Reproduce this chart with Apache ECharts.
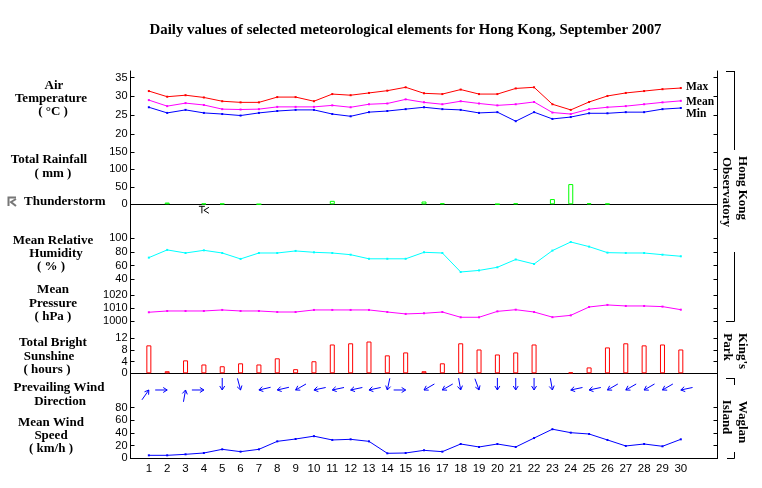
<!DOCTYPE html>
<html>
<head>
<meta charset="utf-8">
<title>Hong Kong September 2007</title>
<style>
  html, body { margin: 0; padding: 0; background: #fff; }
  #chart { width: 762px; height: 488px; }
</style>
<script src="https://cdn.jsdelivr.net/npm/echarts@6/dist/echarts.min.js"></script>
</head>
<body>
<div id="chart"></div>
<script>
const days = [1,2,3,4,5,6,7,8,9,10,11,12,13,14,15,16,17,18,19,20,21,22,23,24,25,26,27,28,29,30];
const tempMax = [31.4,29.9,30.3,29.7,28.7,28.4,28.4,29.8,29.8,28.7,30.6,30.3,30.9,31.5,32.4,30.8,30.6,31.8,30.6,30.6,32.1,32.4,27.9,26.4,28.5,30.1,30.9,31.4,31.9,32.2];
const tempMean = [29,27.4,28.2,27.7,26.6,26.5,26.6,27.2,27.2,27.2,27.6,27.1,27.9,28.1,29.2,28.4,27.9,28.7,28.1,27.6,27.9,28.5,25.7,25.3,26.6,27.1,27.4,27.9,28.4,28.8];
const tempMin = [27.1,25.6,26.4,25.6,25.3,24.9,25.6,26.1,26.4,26.4,25.3,24.7,25.8,26.1,26.6,27.1,26.6,26.4,25.6,25.8,23.4,25.8,24,24.5,25.5,25.5,25.8,25.8,26.6,26.9];
const rainfall = [0,5,0,2,2,0,0.5,0,0,0,10,0,0,0,0,8,3,0,0,1,3,0,15,58,3,2,0,0,0,0];
const thunderDays = [4];
const humidity = [71.7,83,78.5,82.4,78.5,69.8,78.5,78.5,81.5,79.5,78.5,76,70,70,70,79.5,78.5,50.7,53,57.6,69,62.4,82,94.6,87.8,79,78.5,78.5,76,73.7];
const pressure = [1006.8,1007.8,1007.8,1007.8,1008.6,1007.8,1007.8,1007,1007,1008.6,1008.6,1008.6,1008.6,1007,1005.5,1006,1007,1002.9,1002.9,1007.5,1008.8,1007,1003,1004.4,1010.9,1012.5,1011.7,1011.7,1011.2,1008.8];
const sunshine = [9.5,0.7,4.4,3,2.4,3.4,3,5.1,1.4,4.1,9.8,10.2,10.8,6.1,7.1,0.7,3.4,10.2,8.1,6.4,7.1,9.8,0,0.3,2,8.8,10.2,9.5,9.8,8.1];
// compass bearing the arrow points to
const windBearing = [35,90,10,90,180,165,257,257,240,258,258,258,258,192,90,240,240,170,160,180,180,180,170,258,258,240,240,240,240,258];
const windSpeed = [4.7,4.7,6.3,8.4,14.2,10.5,14.2,26.8,30.5,35,29,30,26.8,7.9,8.4,12.6,10.5,22.6,17.9,22.6,17.9,32,46,40.5,38.4,29,19.5,22.6,19,30];

const SERIF = '"Liberation Serif", serif';
const LEFT = 130.5, WIDTH = 587;

const chart = echarts.init(document.getElementById('chart'), null, { renderer: 'canvas' });

// one panel per element: [top, height, min, max, interval]
const panels = [
  [77.5, 56.5, 20, 35, 5],
  [152, 52.3, 0, 150, 50],
  [238.3, 41, 40, 100, 20],
  [295.3, 25.7, 1000, 1020, 10],
  [338, 35.3, 0, 12, 4],
  [407.7, 50.6, 0, 80, 20]
];
const showBaseline = [false, true, false, false, true, true];

const grid = [], xAxis = [], yAxis = [];
panels.forEach((p, i) => {
  grid.push({ left: LEFT, width: WIDTH, top: p[0], height: p[1] });
  xAxis.push({
    type: 'value', gridIndex: i, min: 0, max: 32, interval: 1,
    show: showBaseline[i], splitLine: { show: false }, axisTick: { show: false },
    axisLine: { show: true, onZero: false, lineStyle: { color: '#000', width: 1 } },
    axisLabel: {
      show: i === 5, margin: 5, color: '#000', fontSize: 11.5, hideOverlap: false,
      fontFamily: '"Liberation Sans", sans-serif',
      formatter: v => (days.includes(v) ? String(v) : '')
    }
  });
  ['left', 'right'].forEach(pos => {
    yAxis.push({
      type: 'value', gridIndex: i, position: pos, min: p[2], max: p[3], interval: p[4],
      splitLine: { show: false },
      axisLine: { show: false },
      axisTick: { show: true, inside: true, length: 4, lineStyle: { color: '#000' } },
      axisLabel: {
        show: pos === 'left', margin: 3, color: '#000', fontSize: 11,
        fontFamily: '"Liberation Sans", sans-serif',
        showMinLabel: true, showMaxLabel: true, hideOverlap: false,
        formatter: v => String(v)
      }
    });
  });
});

// full height frame lines on both sides
grid.push({ left: LEFT, width: WIDTH, top: 71, height: 387.3 });
xAxis.push({ type: 'value', gridIndex: 6, show: false, min: 0, max: 32 });
['left', 'right'].forEach(pos => {
  yAxis.push({
    type: 'value', gridIndex: 6, position: pos, min: 0, max: 1,
    splitLine: { show: false }, axisTick: { show: false }, axisLabel: { show: false },
    axisLine: { show: true, lineStyle: { color: '#000', width: 1 } }
  });
});

function lineSeries(panel, values, color) {
  return {
    type: 'line', xAxisIndex: panel, yAxisIndex: panel * 2,
    data: days.map((d, i) => [d, values[i]]),
    symbol: 'rect', symbolSize: 2, showSymbol: true,
    lineStyle: { color: color, width: 1 }, itemStyle: { color: color },
    silent: true, animation: false
  };
}

function barSeries(panel, values, color) {
  return {
    type: 'bar', xAxisIndex: panel, yAxisIndex: panel * 2,
    data: days.map((d, i) => [d, values[i]]).filter(r => r[1] > 0),
    barWidth: 5,
    itemStyle: { color: 'rgba(0,0,0,0)', borderColor: color, borderWidth: 1 },
    silent: true, animation: false
  };
}

const ARROW_LEVEL = 108; // arrow row sits above the wind speed scale
function renderArrow(params, api) {
  const head = api.coord([api.value(0), ARROW_LEVEL]);
  const rad = api.value(1) * Math.PI / 180;
  const ux = Math.sin(rad), uy = -Math.cos(rad);
  const tail = [head[0] - ux * 12, head[1] - uy * 12];
  const barb = (side) => [
    head[0] - ux * 4 + side * uy * 2.5,
    head[1] - uy * 4 - side * ux * 2.5
  ];
  const style = { stroke: '#0000ff', lineWidth: 1, fill: null };
  return {
    type: 'group',
    children: [
      { type: 'polyline', shape: { points: [tail, head] }, style },
      { type: 'polyline', shape: { points: [barb(1), head, barb(-1)] }, style }
    ]
  };
}

function renderThunder(params, api) {
  const c = api.coord([api.value(0), 0]);
  const style = { stroke: '#000', lineWidth: 1, fill: null };
  const pts = list => ({ type: 'polyline', shape: { points: list.map(o => [c[0] + o[0], c[1] + o[1]]) }, style });
  return {
    type: 'group',
    children: [
      pts([[-5, 2], [1, 2]]),
      pts([[-2, 2], [-2, 9]]),
      pts([[5, 3], [0, 6], [5, 9]])
    ]
  };
}

const series = [
  lineSeries(0, tempMax, '#ff0000'),
  lineSeries(0, tempMean, '#ff00ff'),
  lineSeries(0, tempMin, '#0000ff'),
  barSeries(1, rainfall, '#00ff00'),
  {
    type: 'custom', xAxisIndex: 1, yAxisIndex: 2, clip: false, silent: true, animation: false,
    data: thunderDays.map(d => [d]), renderItem: renderThunder
  },
  lineSeries(2, humidity, '#00ffff'),
  lineSeries(3, pressure, '#ff00ff'),
  barSeries(4, sunshine, '#ff0000'),
  lineSeries(5, windSpeed, '#0000ff'),
  {
    type: 'custom', xAxisIndex: 5, yAxisIndex: 10, clip: false, silent: true, animation: false,
    data: days.map((d, i) => [d, windBearing[i]]), renderItem: renderArrow
  }
];

function label(text, x, y, align, rotated, size) {
  return {
    type: 'text', x: x, y: y, rotation: rotated ? -Math.PI / 2 : 0, silent: true,
    style: {
      text: text, fill: '#000', font: 'bold ' + (size || 13) + 'px ' + SERIF,
      align: align || 'center', verticalAlign: 'middle'
    }
  };
}

function rule(x1, y1, x2, y2, color, width) {
  return {
    type: 'line', silent: true,
    shape: { x1, y1, x2, y2 },
    style: { stroke: color || '#000', lineWidth: width || 1 }
  };
}

const graphic = [
  { type: 'text', x: 405.5, y: 30, silent: true,
    style: { text: 'Daily values of selected meteorological elements for Hong Kong, September 2007',
      fill: '#000', font: 'bold 14.9px ' + SERIF, align: 'center', verticalAlign: 'middle' } },
  label('Air', 54, 86), label('Temperature', 51, 99), label('( °C )', 53, 112),
  label('Total Rainfall', 49, 160), label('( mm )', 53, 173.5),
  label('Thunderstorm', 24, 202, 'left'),
  label('Mean Relative', 53, 241), label('Humidity', 56, 254), label('( % )', 51, 267),
  label('Mean', 53, 290), label('Pressure', 53, 304), label('( hPa )', 53, 317),
  label('Total Bright', 53, 343), label('Sunshine', 49, 357), label('( hours )', 47, 370),
  label('Prevailing Wind', 59, 388), label('Direction', 60, 402),
  label('Mean Wind', 51, 423), label('Speed', 51, 436), label('( km/h )', 51, 449),
  label('Max', 686, 87, 'left', false, 11.5), label('Mean', 686, 102, 'left', false, 11.5), label('Min', 686, 114, 'left', false, 11.5),
  label('Hong Kong', 742, 188, 'center', true), label('Observatory', 726, 192, 'center', true),
  label("King's", 742, 351, 'center', true), label('Park', 727, 347, 'center', true),
  label('Waglan', 742, 422, 'center', true), label('Island', 726, 417, 'center', true),
  // station brackets
  rule(726, 71.5, 734.5, 71.5), rule(734.5, 71, 734.5, 150),
  rule(734.5, 252, 734.5, 321.5), rule(726, 321.5, 734.5, 321.5),
  rule(726, 378.5, 734.5, 378.5), rule(734.5, 378, 734.5, 385),
  rule(734.5, 452, 734.5, 458.5), rule(727, 458.5, 734.5, 458.5),
  // thunderstorm key
  { type: 'polyline', silent: true, shape: { points: [[16, 197.5], [8.5, 197.5], [8.5, 206]] },
    style: { stroke: '#777', lineWidth: 2, fill: null } },
  { type: 'polyline', silent: true, shape: { points: [[16, 199], [11, 202], [16, 206]] },
    style: { stroke: '#777', lineWidth: 2, fill: null } }
];

chart.setOption({ animation: false, backgroundColor: '#fff', grid, xAxis, yAxis, series, graphic });
</script>
</body>
</html>
